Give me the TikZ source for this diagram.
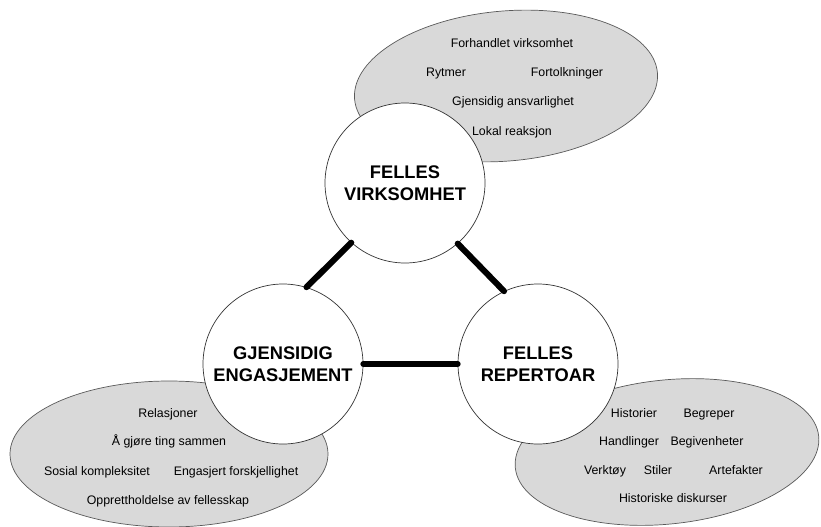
\documentclass[tikz,border=0pt]{standalone}
\usepackage{fontspec}
\setmainfont{Liberation Sans}
\usetikzlibrary{shapes.geometric}

\tikzset{
  sky/.style={ellipse, draw=black!65, fill=black!15, line width=0.5pt, inner sep=0pt},
  fag/.style={circle, draw=black!80, fill=white, line width=0.5pt, minimum size=4cm,
    inner sep=0pt, align=center, font=\fontsize{13}{15.4}\selectfont\bfseries},
  item/.style={inner sep=0pt, text height=6.3pt, text depth=0pt,
    font=\fontsize{8.8}{10}\selectfont},
  bind/.style={line width=4.3pt, line cap=round}
}

\begin{document}
\begin{tikzpicture}[line join=round]
  \useasboundingbox (0,0) rectangle (20.525,13.15);
  % grey clouds behind the circles
  \node[sky, minimum width=7.6cm, minimum height=3.75cm, rotate=5] (skyV) at (12.65,11.0) {};
  \node[sky, minimum width=7.95cm, minimum height=3.65cm] (skyE) at (4.225,1.8) {};
  \node[sky, minimum width=7.625cm, minimum height=3.6cm, rotate=6] (skyR) at (16.675,1.85) {};

  \node[fag] (virk) at (10.125,8.575) {FELLES\\VIRKSOMHET};
  \node[fag] (eng) at (7.075,4.05) {GJENSIDIG\\ENGASJEMENT};
  \node[fag] (rep) at (13.45,4.05) {FELLES\\REPERTOAR};

  \draw[bind] (virk.228) -- (eng.73);
  \draw[bind] (virk.311) -- (rep.115);
  \draw[bind] (eng.east) -- (rep.west);

  % felles virksomhet
  \node[item] (v1) at (12.8,12.075) {Forhandlet virksomhet};
  \node[item] (v2) at (11.15,11.35) {Rytmer};
  \node[item] (v3) at (14.175,11.35) {Fortolkninger};
  \node[item] (v4) at (12.825,10.625) {Gjensidig ansvarlighet};
  \node[item] (v5) at (12.8,9.875) {Lokal reaksjon};

  % gjensidig engasjement
  \node[item] (e1) at (4.2,2.825) {Relasjoner};
  \node[item] (e2) at (4.225,2.125) {Å gjøre ting sammen};
  \node[item] (e3) at (2.425,1.375) {Sosial kompleksitet};
  \node[item] (e4) at (5.9,1.375) {Engasjert forskjellighet};
  \node[item] (e5) at (4.2,0.65) {Opprettholdelse av fellesskap};

  % felles repertoar
  \node[item] (r1) at (15.85,2.825) {Historier};
  \node[item] (r2) at (17.725,2.825) {Begreper};
  \node[item] (r3) at (15.725,2.125) {Handlinger};
  \node[item] (r4) at (17.675,2.125) {Begivenheter};
  \node[item] (r5) at (15.125,1.4) {Verktøy};
  \node[item] (r6) at (16.45,1.4) {Stiler};
  \node[item] (r7) at (18.4,1.4) {Artefakter};
  \node[item] (r8) at (16.825,0.7) {Historiske diskurser};
\end{tikzpicture}
\end{document}
